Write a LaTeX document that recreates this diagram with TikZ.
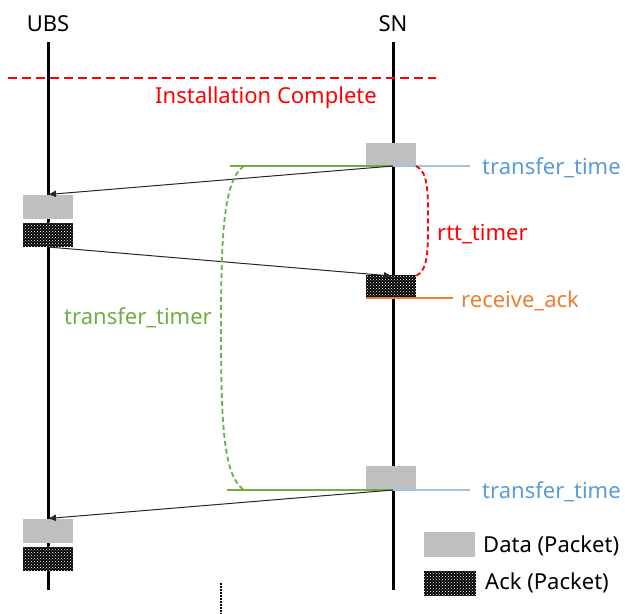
\documentclass[tikz,border=0pt]{standalone}
\usepackage{fontspec}
\setmainfont{Noto Sans}
\usetikzlibrary{arrows.meta,patterns}
\definecolor{cgreen}{HTML}{70AD47}
\definecolor{cblue}{HTML}{5B9BD5}
\definecolor{cblueline}{HTML}{9DC3E6}
\definecolor{corange}{HTML}{ED7D31}
\definecolor{cgray}{HTML}{BFBFBF}
\tikzset{
  lifeline/.style={line width=3pt, black},
  databox/.style={fill=cgray, draw=none, minimum width=50pt, minimum height=24pt, inner sep=0pt},
  ackbox/.style={preaction={fill=black}, pattern=crosshatch dots, pattern color=white, draw=none, minimum width=50pt, minimum height=24pt, inner sep=0pt},
  msg/.style={line width=1pt, black!85, -{Latex[length=8pt,width=7pt]}},
  txt/.style={font=\fontsize{22}{26}\selectfont, inner sep=0pt},
  ltxt/.style={txt, anchor=west},
}
\begin{document}
\begin{tikzpicture}[x=1pt,y=-1pt]
\useasboundingbox (0,0) rectangle (625,614);
% headers
\node[txt] (ubs) at (48,24) {UBS};
\node[txt] (sn) at (393,24) {SN};
% lifelines
\coordinate (ubsTop) at (48,42);
\coordinate (ubsBot) at (48,590);
\coordinate (snTop) at (393,42);
\coordinate (snBot) at (393,590);
\draw[lifeline] (ubsTop) -- (ubsBot);
\draw[lifeline] (snTop) -- (snBot);
% installation complete
\coordinate (instL) at (8,78);
\coordinate (instR) at (436,78);
\draw[red, line width=1.8pt, dash pattern=on 9pt off 5pt] (instL) -- (instR);
\node[txt, text=red] (inst) at (266,98) {Installation Complete};
% first exchange
\node[databox] (d1) at (391,154.5) {};
\node[databox] (u1) at (48,207) {};
\node[ackbox] (a1) at (48,234.5) {};
\node[ackbox] (a2) at (391,287) {};
\coordinate (s1) at (393,166);
\coordinate (r1) at (48,194.5);
\coordinate (g1) at (230,166);
\coordinate (b1) at (470,166);
\draw[cgreen, line width=1.8pt] (g1) -- (s1);
\draw[cblueline, line width=2.5pt] (s1) -- (b1);
\node[ltxt, text=cblue] (tt1) at (482,168) {transfer\_time};
\draw[msg] (s1) -- (r1);
\coordinate (u1s) at (48,247);
\coordinate (s2) at (392,276);
\draw[msg] (u1s) -- (s2);
\coordinate (o1) at (366,298);
\coordinate (o2) at (453,298);
\draw[corange, line width=1.8pt] (o1) -- (o2);
\node[ltxt, text=corange] (ra) at (461,301) {receive\_ack};
% rtt timer
\coordinate (rt1) at (416,166);
\coordinate (rt2) at (416,276);
\draw[red, line width=1.8pt, dash pattern=on 5pt off 3pt]
  (rt1) .. controls (428,172) and (428,190) .. (428,221)
        .. controls (428,252) and (428,270) .. (rt2);
\node[ltxt, text=red] (rtt) at (437,234) {rtt\_timer};
% second transfer
\node[databox] (d2) at (391,478) {};
\coordinate (s3) at (393,490);
\coordinate (g2) at (227,490);
\coordinate (b2) at (470,490);
\draw[cgreen, line width=1.8pt] (g2) -- (s3);
\draw[cblueline, line width=2.5pt] (s3) -- (b2);
\node[ltxt, text=cblue] (tt2) at (482,492) {transfer\_time};
\node[databox] (u2) at (48,530.5) {};
\node[ackbox] (a3) at (48,558.5) {};
\coordinate (r2) at (48,518.5);
\draw[msg] (s3) -- (r2);
% transfer timer
\coordinate (gt1) at (244,166);
\coordinate (gt2) at (244,490);
\draw[cgreen, line width=1.8pt, dash pattern=on 5pt off 3pt]
  (gt1) .. controls (224,180) and (221,230) .. (221,328)
        .. controls (221,430) and (224,476) .. (gt2);
\node[txt, text=cgreen] (ttm) at (138,318) {transfer\_timer};
% continuation
\coordinate (dt1) at (221,583);
\coordinate (dt2) at (221,614);
\draw[line width=2.2pt, dash pattern=on 1.5pt off 1.5pt] (dt1) -- (dt2);
% legend
\node[databox, minimum width=51pt, minimum height=25pt] (ld) at (449.5,544.5) {};
\node[ltxt] (ldt) at (483,546) {Data (Packet)};
\node[ackbox, minimum width=52pt, minimum height=25pt] (la) at (450,583.5) {};
\node[ltxt] (lat) at (485,583) {Ack (Packet)};
\end{tikzpicture}
\end{document}
